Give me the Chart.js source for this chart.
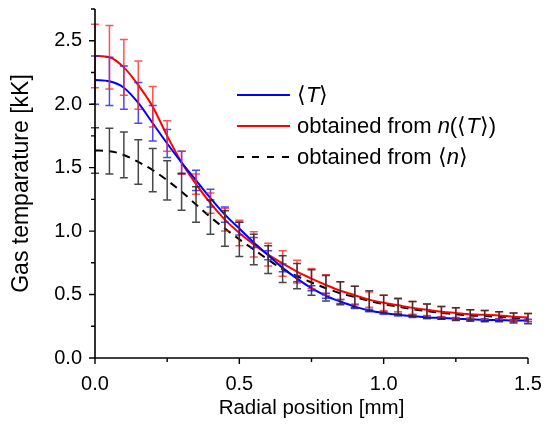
<!DOCTYPE html>
<html>
<head>
<meta charset="utf-8">
<script src="https://cdn.jsdelivr.net/npm/chart.js@4"></script>
<style>
  html, body { margin: 0; padding: 0; background: #fff; }
  #wrap { width: 549px; height: 426px; }
</style>
</head>
<body>
<div id="wrap"><canvas id="myChart" width="549" height="426"></canvas></div>
<script>
// radial positions [mm]
const radius = [0.00, 0.05, 0.10, 0.15, 0.20, 0.25, 0.30, 0.35, 0.40, 0.45, 0.50,
                0.55, 0.60, 0.65, 0.70, 0.75, 0.80, 0.85, 0.90, 0.95, 1.00,
                1.05, 1.10, 1.15, 1.20, 1.25, 1.30, 1.35, 1.40, 1.45, 1.50];

// <T>
const tMean = [2.19, 2.18, 2.13, 2.01, 1.85, 1.69, 1.54, 1.40, 1.26, 1.13, 1.02,
               0.91, 0.81, 0.71, 0.625, 0.55, 0.49, 0.445, 0.405, 0.375, 0.355,
               0.34, 0.33, 0.32, 0.315, 0.31, 0.305, 0.30, 0.30, 0.295, 0.295];
const tMeanErr = [0.19, 0.19, 0.17, 0.16, 0.14, 0.11, 0.09, 0.08, 0.07, 0.06, 0.05,
                  0.04, 0.035, 0.03, 0.025, 0.02, 0.02, 0.015, 0.015, 0.01, 0.01,
                  0.01, 0.01, 0.01, 0.01, 0.01, 0.01, 0.01, 0.01, 0.01, 0.01];

// obtained from n(<T>)
const tFromN = [2.38, 2.37, 2.29, 2.15, 1.98, 1.75, 1.54, 1.37, 1.22, 1.09, 0.985,
                0.895, 0.815, 0.745, 0.68, 0.625, 0.575, 0.53, 0.495, 0.46, 0.435,
                0.415, 0.395, 0.38, 0.365, 0.355, 0.345, 0.34, 0.335, 0.325, 0.32];
const tFromNErr = [0.25, 0.25, 0.22, 0.19, 0.16, 0.12, 0.09, 0.08, 0.08, 0.09, 0.10,
                   0.10, 0.09, 0.10, 0.09, 0.08, 0.08, 0.07, 0.07, 0.06, 0.06,
                   0.05, 0.05, 0.045, 0.04, 0.04, 0.035, 0.035, 0.03, 0.03, 0.03];

// obtained from <n>
const tFromMeanN = [1.635, 1.63, 1.60, 1.545, 1.48, 1.40, 1.31, 1.21, 1.11, 1.02, 0.935,
                    0.855, 0.775, 0.70, 0.645, 0.595, 0.55, 0.51, 0.48, 0.45, 0.425,
                    0.405, 0.385, 0.37, 0.355, 0.345, 0.335, 0.33, 0.325, 0.315, 0.31];
const tFromMeanNErr = [0.18, 0.18, 0.18, 0.175, 0.17, 0.155, 0.145, 0.14, 0.135, 0.14, 0.135,
                       0.12, 0.11, 0.105, 0.10, 0.10, 0.10, 0.09, 0.085, 0.08, 0.07,
                       0.065, 0.06, 0.055, 0.05, 0.05, 0.045, 0.045, 0.04, 0.04, 0.04];

// legend texts, split in upright / italic parts
const legendBlue = [['\u27E8', false], ['T', true], ['\u27E9', false]];
const legendRed = [['obtained from ', false], ['n', true], ['(\u27E8', false], ['T', true], ['\u27E9)', false]];
const legendBlack = [['obtained from \u27E8', false], ['n', true], ['\u27E9', false]];

const FONT = "'Liberation Sans', Arial, sans-serif";

function toPoints(ys) {
    return radius.map((x, i) => ({ x: x, y: ys[i] }));
}

function isMajor(v) {
    return Math.abs(v * 2 - Math.round(v * 2)) < 1e-6;
}

const errorSets = [
    { values: tMean, errs: tMeanErr, color: 'rgba(40,40,255,0.85)' },
    { values: tFromN, errs: tFromNErr, color: 'rgba(255,40,40,0.8)' },
    { values: tFromMeanN, errs: tFromMeanNErr, color: 'rgba(40,40,40,0.85)' }
];

const errorBarPlugin = {
    id: 'errorBars',
    afterDatasetsDraw(chart) {
        const ctx = chart.ctx;
        const xs = chart.scales.x;
        const ys = chart.scales.y;
        ctx.save();
        ctx.lineWidth = 1.5;
        errorSets.forEach(set => {
            ctx.strokeStyle = set.color;
            set.values.forEach((v, i) => {
                const px = xs.getPixelForValue(radius[i]);
                const top = ys.getPixelForValue(v + set.errs[i]);
                const bot = ys.getPixelForValue(v - set.errs[i]);
                ctx.beginPath();
                ctx.moveTo(px, top);
                ctx.lineTo(px, bot);
                ctx.moveTo(px - 4, top);
                ctx.lineTo(px + 4, top);
                ctx.moveTo(px - 4, bot);
                ctx.lineTo(px + 4, bot);
                ctx.stroke();
            });
        });
        ctx.restore();
    }
};

// axis lines and outward tick marks (major 0.5, minor 0.25)
const axesPlugin = {
    id: 'axesTicks',
    afterDraw(chart) {
        const ctx = chart.ctx;
        const area = chart.chartArea;
        const xs = chart.scales.x;
        const ys = chart.scales.y;
        ctx.save();
        ctx.strokeStyle = '#000';
        ctx.lineWidth = 1.6;
        ctx.beginPath();
        ctx.moveTo(area.left, area.top);
        ctx.lineTo(area.left, area.bottom);
        ctx.lineTo(area.right, area.bottom);
        ctx.stroke();
        ctx.lineWidth = 1.4;
        ctx.beginPath();
        xs.ticks.forEach(t => {
            const px = xs.getPixelForValue(t.value);
            ctx.moveTo(px, area.bottom);
            ctx.lineTo(px, area.bottom + (isMajor(t.value) ? 6 : 4));
        });
        ys.ticks.forEach(t => {
            const py = ys.getPixelForValue(t.value);
            ctx.moveTo(area.left, py);
            ctx.lineTo(area.left - (isMajor(t.value) ? 6 : 4), py);
        });
        ctx.stroke();
        ctx.restore();
    }
};

// legend with italic symbols
const legendPlugin = {
    id: 'mixedLegend',
    afterDraw(chart) {
        const ctx = chart.ctx;
        const rows = [
            { parts: legendBlue, color: '#0000ff', dash: [], y: 95 },
            { parts: legendRed, color: '#ff0000', dash: [], y: 126 },
            { parts: legendBlack, color: '#000000', dash: [7, 8], y: 157 }
        ];
        ctx.save();
        rows.forEach(r => {
            ctx.strokeStyle = r.color;
            ctx.lineWidth = 2;
            ctx.setLineDash(r.dash);
            ctx.beginPath();
            ctx.moveTo(237, r.y);
            ctx.lineTo(290, r.y);
            ctx.stroke();
            ctx.setLineDash([]);
            let x = 297;
            ctx.fillStyle = '#000';
            ctx.textBaseline = 'middle';
            r.parts.forEach(p => {
                ctx.font = (p[1] ? 'italic ' : '') + '22px ' + FONT;
                ctx.fillText(p[0], x, r.y + 1);
                x += ctx.measureText(p[0]).width;
            });
        });
        ctx.restore();
    }
};

const ctx = document.getElementById('myChart').getContext('2d');
const myChart = new Chart(ctx, {
    type: 'line',
    data: {
        datasets: [
            {
                label: '<T>',
                data: toPoints(tMean),
                borderColor: '#0000ff',
                borderWidth: 2,
                pointRadius: 0,
                cubicInterpolationMode: 'monotone',
                fill: false,
                order: 1
            },
            {
                label: 'obtained from n(<T>)',
                data: toPoints(tFromN),
                borderColor: '#ff0000',
                borderWidth: 2,
                pointRadius: 0,
                cubicInterpolationMode: 'monotone',
                fill: false,
                order: 2
            },
            {
                label: 'obtained from <n>',
                data: toPoints(tFromMeanN),
                borderColor: '#000000',
                borderWidth: 2,
                borderDash: [8, 6],
                pointRadius: 0,
                cubicInterpolationMode: 'monotone',
                fill: false,
                order: 3
            }
        ]
    },
    options: {
        responsive: false,
        animation: false,
        devicePixelRatio: 1,
        layout: { padding: { left: 0, right: 21, top: 9, bottom: 0 } },
        plugins: {
            legend: { display: false },
            tooltip: { enabled: false }
        },
        scales: {
            x: {
                type: 'linear',
                min: 0,
                max: 1.5,
                grid: { display: false, drawTicks: false },
                border: { display: false },
                ticks: {
                    stepSize: 0.25,
                    autoSkip: false,
                    maxRotation: 0,
                    padding: 14,
                    color: '#000',
                    font: { family: FONT, size: 20 },
                    callback: v => (isMajor(v) ? v.toFixed(1) : '')
                },
                title: {
                    display: true,
                    text: 'Radial position [mm]',
                    color: '#000',
                    font: { family: FONT, size: 20.5 },
                    padding: { top: 0, bottom: 5 }
                },
                afterFit: scale => {
                    scale.height = 68;
                    scale.paddingLeft = 0;
                    scale.paddingRight = 0;
                }
            },
            y: {
                min: 0,
                max: 2.75,
                grid: { display: false, drawTicks: false },
                border: { display: false },
                ticks: {
                    stepSize: 0.25,
                    autoSkip: false,
                    padding: 13,
                    color: '#000',
                    font: { family: FONT, size: 20 },
                    callback: v => (isMajor(v) ? v.toFixed(1) : '')
                },
                title: {
                    display: true,
                    text: 'Gas temparature [kK]',
                    color: '#000',
                    font: { family: FONT, size: 23 },
                    padding: { top: 8, bottom: 0 }
                },
                afterFit: scale => {
                    scale.width = 95;
                    scale.paddingTop = 0;
                    scale.paddingBottom = 0;
                }
            }
        }
    },
    plugins: [errorBarPlugin, axesPlugin, legendPlugin]
});
</script>
</body>
</html>
